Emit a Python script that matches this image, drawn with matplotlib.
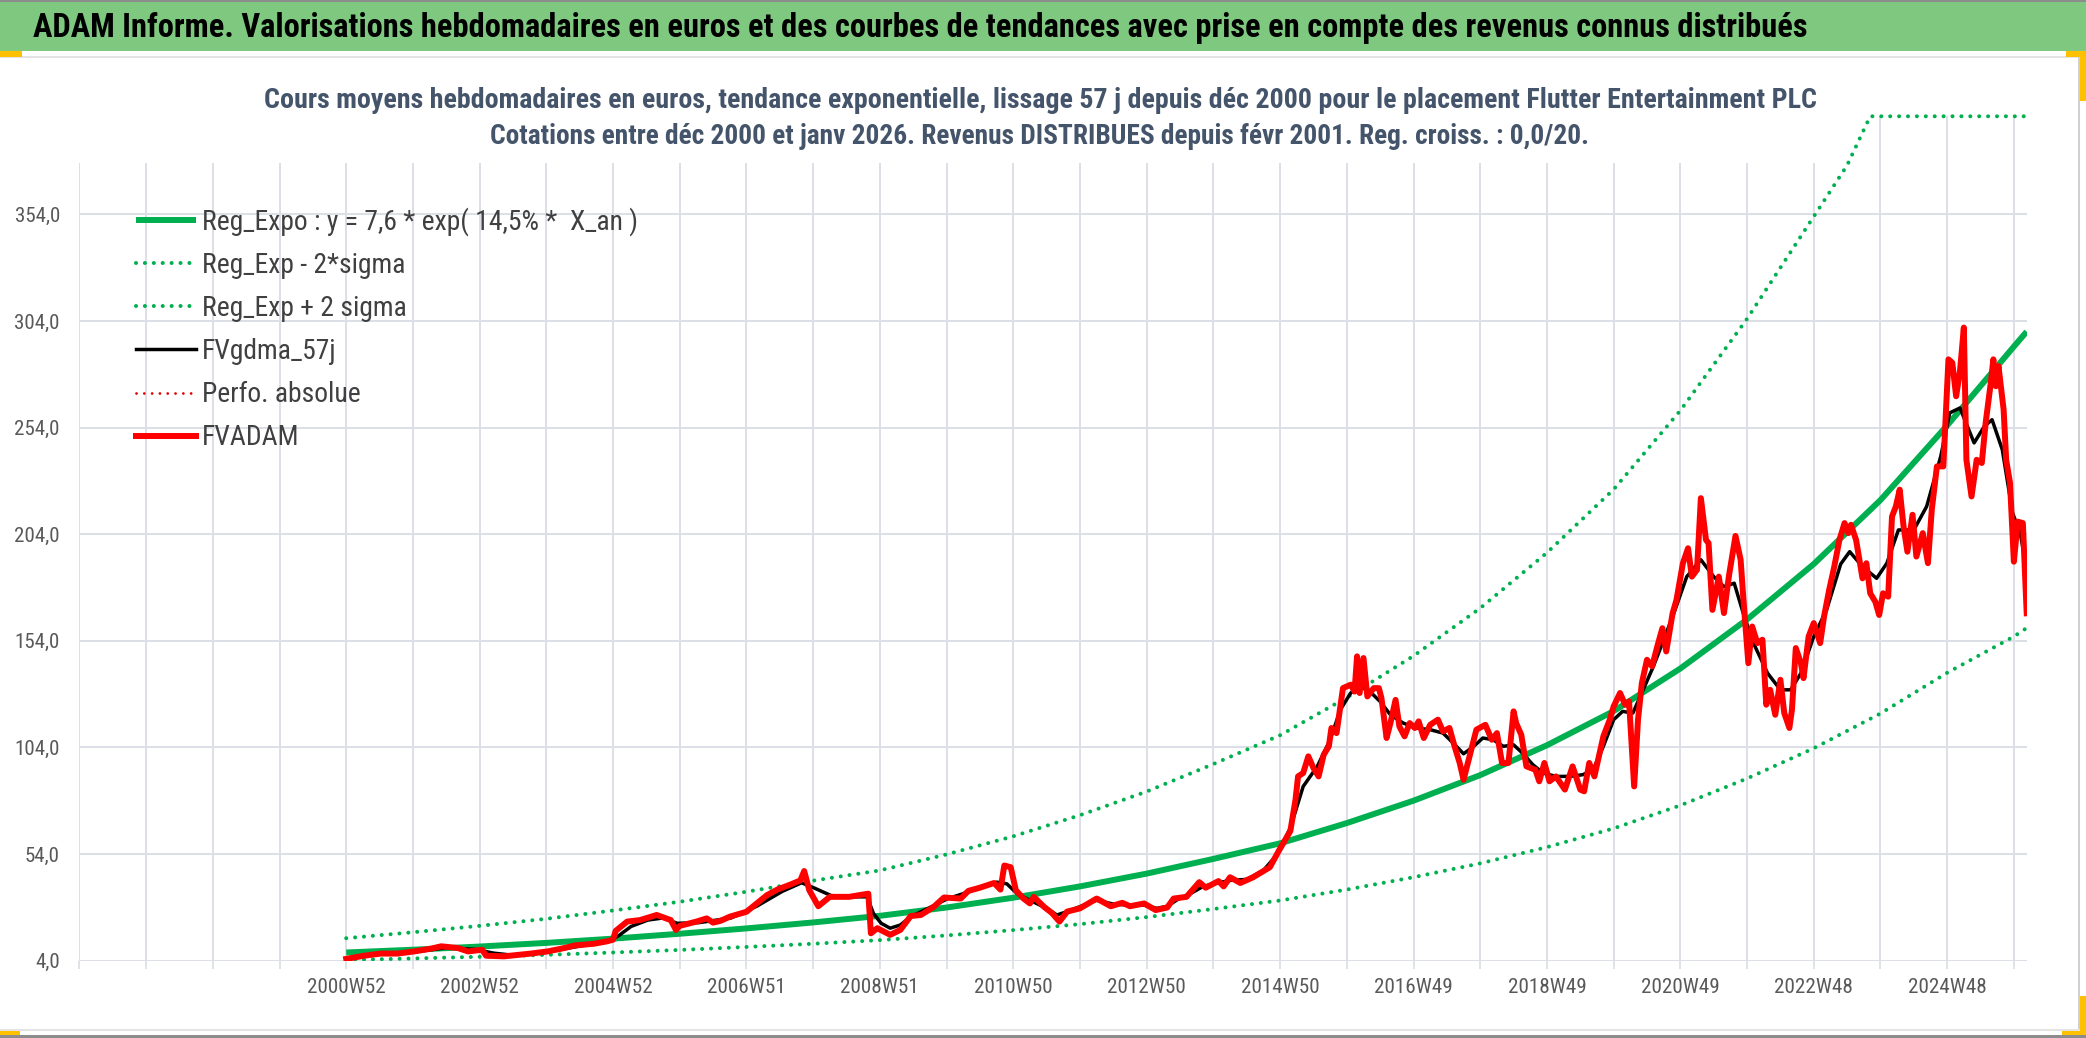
import matplotlib
matplotlib.use('Agg')
import matplotlib.pyplot as plt
from matplotlib import font_manager as fm
from matplotlib.patches import Rectangle
import numpy as np

# --- data (weeks counted from 2000W52) ---
blank_weeks = 208  # empty categories shown before the first quote (4 x 52)

price_weeks = [0, 14, 27, 40, 53, 66, 74, 87, 95, 102, 106, 109, 123, 144, 157, 170, 178, 193, 203, 208,
               210, 219, 229, 242, 247, 253, 257, 260, 273, 281, 286, 292, 299, 312, 320, 328, 336, 346, 354, 357,
               361, 368, 377, 392,
               407, 409, 414, 424, 432, 440, 448, 458, 466, 479, 485, 494, 505, 510, 513, 518, 522, 528, 533, 536,
               544, 550, 556, 562, 572, 585, 596, 605, 611, 622, 631, 640, 645, 655, 665, 670, 680, 684, 689, 697,
               707, 720, 727, 736,
               740, 742, 746, 750, 754, 758, 762, 766, 768, 772, 777, 783, 786, 788, 790, 793, 796, 801, 805, 807,
               811, 814, 818, 821, 825, 829, 833, 836, 840, 845, 851, 855, 860, 864, 868, 871, 875, 881, 888, 893,
               897, 901, 906, 910, 912, 916, 920, 927, 930, 934, 938, 943, 950, 956, 962, 965, 969, 973, 980, 985,
               988, 993, 997, 1000, 1004, 1007, 1010, 1014, 1018, 1022, 1026, 1029, 1034, 1037, 1042, 1046, 1049,
               1053, 1056, 1060, 1062, 1065, 1070, 1074, 1078, 1083, 1087, 1089, 1093, 1096, 1100, 1104, 1107, 1110,
               1114, 1118, 1121, 1125, 1127, 1130, 1134, 1136, 1140, 1144, 1149,
               1152, 1156, 1160, 1164, 1168, 1171, 1173, 1177, 1182, 1185, 1188, 1192, 1195, 1198, 1202, 1205, 1208,
               1211, 1214, 1217, 1221, 1224, 1229, 1233, 1236, 1240, 1245, 1249, 1252, 1255, 1258, 1261, 1263, 1267,
               1271, 1275, 1278, 1282, 1284, 1286, 1288, 1292, 1294, 1297, 1300, 1303, 1307, 1310]
price_values = [4.8, 6.3, 7.3, 7.3, 8.3, 9.6, 10.7, 9.9, 8.3, 8.8, 9.1, 6.3, 6.0, 7.3, 8.3, 9.9, 11.1, 11.9, 13.0, 13.8,
                17.9, 22.3, 23.0, 25.4, 24.3, 23.0, 18.4, 20.3, 22.3, 23.8, 21.8, 22.7, 24.6, 26.9, 30.8, 34.7, 37.3,
                39.6, 41.6, 46.0, 37.0, 29.5, 33.9, 33.9,
                35.4, 16.8, 19.2, 16.1, 18.4, 24.9, 25.4, 29.2, 33.6, 33.1, 36.7, 38.2, 40.4, 37.3, 48.6, 47.8, 37.0,
                33.1, 30.8, 33.9, 29.2, 26.4, 22.3, 27.0, 28.5, 33.1, 29.5, 31.1, 29.5, 30.8, 27.7, 28.9, 33.1, 33.9,
                40.8, 38.2, 41.3, 38.8, 43.1, 40.4, 43.1, 47.8, 55.5, 64.8,
                79.5, 90.4, 92.0, 99.8, 94.3, 90.4, 100.6, 104.5, 113.1, 110.7, 131.8, 133.4, 130.2, 146.7, 129.5,
                145.9, 127.9, 131.8, 131.8, 127.1, 108.4, 115.4, 126.3, 113.8, 109.2, 115.4, 113.1, 116.2, 108.4,
                114.6, 117.0, 111.5, 113.1, 104.5, 96.7, 88.8, 98.2, 112.3, 114.6, 107.6, 110.7, 96.7, 96.7, 120.9,
                115.4, 109.9, 95.1, 93.5, 88.1, 96.7, 88.1, 90.4, 84.2, 95.1, 84.2, 83.4, 96.7, 90.4, 109.2, 117.0,
                123.2, 129.5, 124.0, 125.6, 85.7, 117.0, 134.2, 145.1, 142.0, 151.3, 159.9, 149.0, 167.0, 173.2,
                190.4, 197.4, 184.1, 187.3, 220.9, 201.3, 199.8, 168.5, 184.1, 167.0, 184.9, 203.2, 192.0, 174.8,
                143.5, 160.7, 152.9, 154.5, 124.0, 131.0, 119.3, 135.7, 120.1, 113.1, 121.7, 150.6, 143.5, 136.5,
                156.0, 162.3, 152.9,
                165.3, 177.8, 188.8, 201.3, 209.2, 204.5, 208.4, 201.3, 183.3, 190.4, 176.3, 172.3, 166.1, 176.3,
                174.7, 212.3, 217.0, 224.9, 207.6, 195.8, 213.1, 193.5, 204.5, 190.4, 215.4, 235.8, 235.8, 286.0,
                284.4, 268.7, 280.5, 300.9, 238.9, 221.7, 238.9, 237.4, 256.2, 275.0, 286.0, 273.4, 282.8, 262.5,
                238.9, 228.0, 191.1, 209.9, 209.2, 166.9]

smooth_weeks = [0, 26, 52, 78, 100, 115, 130, 156, 182, 203, 212, 222, 235, 247, 258, 275, 300, 320, 340, 355,
                365, 378, 393, 406, 411, 417, 424, 432, 440, 456, 469, 481, 494, 507, 515, 523, 533, 546, 554, 562,
                575, 585, 598, 611, 622, 632, 640, 648, 658, 668, 679, 689, 702, 715, 726, 736, 746, 757, 767, 775,
                783, 790, 798, 806, 814, 824, 834, 845, 855, 863, 871, 879, 886, 894, 902, 910, 917, 925, 933, 943,
                954, 964, 972, 980, 988, 995, 1003, 1011, 1019, 1026, 1035, 1045, 1056, 1066, 1074, 1082, 1089, 1097,
                1108, 1118, 1126, 1134, 1144, 1154, 1165, 1172, 1182, 1193, 1201, 1210, 1222, 1232, 1243, 1250, 1258,
                1269, 1277, 1283, 1291, 1299, 1305, 1310]
smooth_values = [5.0, 7.0, 8.0, 10.0, 9.3, 7.5, 6.5, 8.0, 10.8, 12.8, 15.5, 20.0, 23.0, 24.0, 21.5, 21.8, 24.0, 29.5,
                 36.5, 40.5, 38.0, 34.5, 33.9, 33.9, 26.1, 21.5, 19.2, 20.7, 24.6, 29.2, 33.1, 35.4, 38.2, 40.8, 40.0,
                 35.4, 32.3, 28.5, 25.4, 27.0, 30.0, 32.3, 30.5, 30.0, 30.0, 28.5, 29.5, 32.6, 35.4, 38.8, 40.4, 41.6,
                 42.1, 46.3, 54.0, 66.3, 85.7, 95.1, 107.6, 121.7, 129.5, 132.6, 130.2, 125.5, 119.3, 115.4, 113.1,
                 112.3, 110.7, 106.0, 101.0, 104.5, 108.4, 107.6, 104.5, 105.2, 101.3, 95.9, 92.0, 90.4, 90.4, 91.2,
                 93.5, 104.5, 117.0, 120.9, 120.1, 131.0, 142.0, 152.9, 167.0, 184.1, 192.0, 184.1, 179.4, 181.0,
                 167.0, 152.9, 138.8, 131.0, 131.0, 138.8, 156.0, 168.5, 190.0, 195.8, 188.8, 183.3, 190.4, 206.0,
                 206.0, 217.0, 240.5, 260.9, 263.2, 246.8, 254.6, 257.7, 243.6, 213.9, 204.5, 187.2]

trend_weeks = [0, 52, 104, 156, 208, 260, 312, 364, 416, 468, 520, 572, 624, 676, 728, 780, 832, 884, 936, 988,
               1040, 1092, 1144, 1196, 1248, 1300, 1310]
trend_values = [7.8, 9.1, 10.6, 12.3, 14.3, 16.6, 19.1, 21.9, 25.0, 28.9, 33.5, 38.8, 44.8, 51.7, 59.0, 68.5, 79.0,
                91.0, 105.0, 121.0, 141.0, 164.0, 190.0, 220.0, 255.0, 292.0, 299.0]
lower_values = [4.3, 5.0, 5.8, 6.7, 7.8, 9.0, 10.4, 11.9, 13.6, 15.8, 18.3, 21.1, 24.4, 28.2, 32.2, 37.3, 43.1,
                49.6, 57.2, 66.0, 76.8, 89.4, 103.6, 119.9, 139.0, 156.0, 160.0]
upper_weeks = [0, 52, 104, 156, 208, 260, 312, 364, 416, 468, 520, 572, 624, 676, 728, 780, 832, 884, 936, 988,
               1040, 1092, 1144, 1170, 1188, 1310]
upper_values = [14.5, 17.3, 20.3, 23.6, 27.5, 31.6, 36.3, 41.5, 46.3, 53.8, 62.3, 72.2, 83.3, 96.2, 109.7, 127.4,
                146.9, 169.3, 195.3, 225.0, 262.0, 305.0, 353.0, 377.0, 400.0, 400.0]

week_labels = ['2000W52', '2002W52', '2004W52', '2006W51', '2008W51', '2010W50', '2012W50',
               '2014W50', '2016W49', '2018W49', '2020W49', '2022W48', '2024W48']
y_ticks = [4, 54, 104, 154, 204, 254, 304, 354]

series_names = ['Reg_Expo : y = 7,6 * exp( 14,5% *  X_an )', 'Reg_Exp - 2*sigma', 'Reg_Exp + 2 sigma',
                'FVgdma_57j', 'Perfo. absolue', 'FVADAM']

title = ('ADAM Informe. Valorisations hebdomadaires en euros et des courbes de tendances '
         'avec prise en compte des revenus connus distribués')
subtitle1 = ('Cours moyens hebdomadaires en euros, tendance exponentielle, lissage 57 j depuis déc 2000 '
             'pour le placement Flutter Entertainment PLC')
subtitle2 = ('Cotations entre déc 2000 et janv 2026. Revenus DISTRIBUES depuis févr 2001. '
             'Reg. croiss. : 0,0/20.')

# --- fonts: prefer a narrow face (the original is a squeezed Calibri) ---
names = {f.name for f in fm.fontManager.ttflist}
FONT = 'DejaVu Sans'
for cand in ['Liberation Sans Narrow', 'Roboto Condensed', 'Open Sans Condensed', 'Lato', 'Noto Sans']:
    if cand in names:
        FONT = cand
        break
plt.rcParams['font.family'] = [FONT, 'DejaVu Sans']

W, H = 2086, 1038
GREEN = '#00B050'
GRID = '#DCE0E6'

fig = plt.figure(figsize=(W / 100, H / 100), dpi=100)
fig.patch.set_facecolor('white')


def box(x, y, w, h, color, z=1):
    fig.add_artist(Rectangle((x / W, 1 - (y + h) / H), w / W, h / H, transform=fig.transFigure,
                             facecolor=color, edgecolor='none', zorder=z))


def fit(txt, width_px):
    r = fig.canvas.get_renderer()
    for _ in range(3):
        w = txt.get_window_extent(r).width
        txt.set_fontsize(txt.get_fontsize() * width_px / w)
    return txt.get_fontsize()


# frame / banner
box(0, 0, W, 2, '#8c8c8c')
box(0, 2, W, 49, '#7EC87F')
box(0, 56, 2080, 2, '#E3E3E3')
box(2078, 57, 2, 974, '#D0D0D0')
box(0, 1029, 2080, 2, '#E3E3E3')
box(0, 1035, W, 3, '#8c8c8c')
box(0, 51, 22, 6, '#FFC000')
box(2066, 51, 20, 6, '#FFC000')
box(2080, 51, 6, 50, '#FFC000')
box(2080, 996, 6, 39, '#FFC000')
box(2062, 1031, 24, 4, '#FFC000')
box(0, 1031, 20, 4, '#FFC000')

# axes
ax_left, ax_right, ax_top, ax_bottom = 79.4, 2026.7, 116.3, 960.6
ax = fig.add_axes([ax_left / W, 1 - ax_bottom / H, (ax_right - ax_left) / W, (ax_bottom - ax_top) / H])
ax.set_facecolor('none')

dots = (0, (0.01, 2.2))
xs = lambda weeks: blank_weeks + np.array(weeks)
ax.plot(xs(trend_weeks), trend_values, color=GREEN, lw=4.3, solid_capstyle='butt', label=series_names[0])
ax.plot(xs(trend_weeks), lower_values, color=GREEN, lw=2.9, linestyle=dots,
        dash_capstyle='round', label=series_names[1])
ax.plot(xs(upper_weeks), upper_values, color=GREEN, lw=2.9, linestyle=dots,
        dash_capstyle='round', clip_on=False, label=series_names[2])
ax.plot(xs(smooth_weeks), smooth_values, color='black', lw=2.5, label=series_names[3])
ax.plot([], [], color='#E00000', lw=2.0, linestyle=(0, (0.01, 2.8)), dash_capstyle='round',
        label=series_names[4])
ax.plot(xs(price_weeks), price_values, color='#FF0000', lw=4.3, solid_joinstyle='round', label=series_names[5])

x_max = blank_weeks + price_weeks[-1]
ax.set_xlim(0, x_max)
ax.set_ylim(4, 400)
for s in ax.spines.values():
    s.set_visible(False)

ticks = list(range(0, x_max + 1, 52))
tick_text = []
for p in ticks:
    k = p - blank_weeks
    if k >= 0 and k % 104 == 0 and k // 104 < len(week_labels):
        tick_text.append(week_labels[k // 104])
    else:
        tick_text.append('')
ax.set_xticks(ticks)
ax.set_xticklabels(tick_text)
ax.set_yticks(y_ticks)
ax.set_yticklabels([f'{v:.1f}'.replace('.', ',') for v in y_ticks])
ax.grid(True, color=GRID, lw=1.4)
ax.set_axisbelow(True)

# tick label sizes fitted to the reference widths
tmp = fig.text(0, 0, '354,0', fontsize=14)
ysize = fit(tmp, 45.5)
tmp.set_text('2000W52')
xsize = fit(tmp, 79)
tmp.set_text(series_names[1])
lsize = fit(tmp, 204)
tmp.remove()

ax.tick_params(axis='y', length=0, pad=14, labelsize=ysize, labelcolor='#595959')
ax.tick_params(axis='x', length=5.8, width=1.3, color=GRID, pad=7, labelsize=xsize, labelcolor='#595959')

# title box hiding the grid under the chart title
box(ax_left, ax_top, 1840 - ax_left, 163 - ax_top, 'white', z=2)

t = fig.text(33 / W, 1 - 28 / H, title, ha='left', va='center', fontweight='bold', color='black',
             fontsize=20, zorder=3)
fit(t, 1774)
s1 = fig.text(1040 / W, 1 - 100 / H, subtitle1, ha='center', va='center', fontweight='bold',
              color='#44546A', fontsize=14, zorder=3)
fit(s1, 1550)
s2 = fig.text(1040 / W, 1 - 137 / H, subtitle2, ha='center', va='center', fontweight='bold',
              color='#44546A', fontsize=14, zorder=3)
fit(s2, 1100)

# legend, tuned so rows sit where they are in the reference
fpx = lsize * 100 / 72
spacing = 0.9
anchor = [136 / W, 1 - 200 / H]


def make_legend():
    return ax.legend(loc='upper left', bbox_to_anchor=tuple(anchor), bbox_transform=fig.transFigure,
                     frameon=False, prop={'size': lsize}, handlelength=60 / fpx, handletextpad=6 / fpx,
                     labelspacing=spacing, borderpad=0, borderaxespad=0, labelcolor='#404040')


for _ in range(3):
    leg = make_legend()
    fig.canvas.draw()
    ex = [tx.get_window_extent() for tx in leg.get_texts()]
    c0 = (ex[0].y0 + ex[0].y1) / 2
    c5 = (ex[-1].y0 + ex[-1].y1) / 2
    pitch = (c0 - c5) / 5
    spacing += (43.2 - pitch) / fpx
    anchor[0] += (202 - ex[0].x0) / W
    anchor[1] += ((H - 221.7) - c0) / H
leg = make_legend()

fig.savefig('out.png', dpi=100)
